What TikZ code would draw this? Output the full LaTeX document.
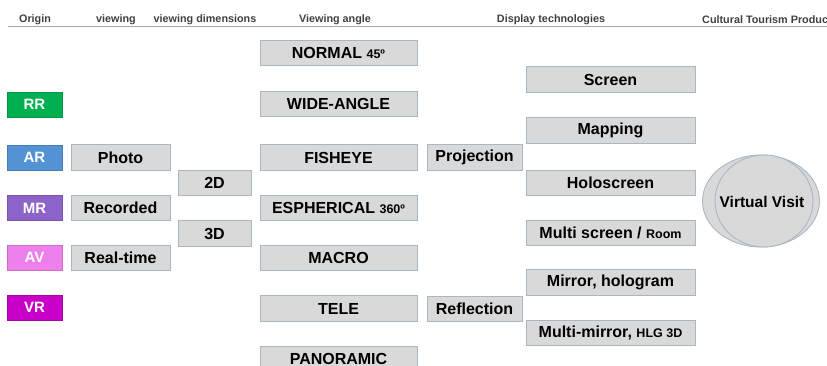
\documentclass[tikz,border=0pt]{standalone}
\usepackage{fontspec}
\setmainfont{Liberation Sans}
\begin{document}
\begin{tikzpicture}[x=1pt,y=-1pt,
  hdr/.style={font=\fontsize{10.8}{12}\selectfont\bfseries, text=black!75, inner sep=0pt},
  gbox/.style={draw=boxedge, fill=boxfill, line width=0.9pt, inner sep=0pt,
    minimum height=25.5pt, text=black, font=\fontsize{16}{16}\selectfont\bfseries},
  obox/.style={fill=#1, draw=#1!85!black, line width=0.5pt, inner sep=0pt,
    minimum width=55pt, minimum height=25pt, text=white,
    font=\fontsize{15}{16}\selectfont\bfseries}
]
\definecolor{boxfill}{HTML}{D9D9D9}
\definecolor{boxedge}{HTML}{A9B6C4}
\definecolor{cRR}{HTML}{00B050}
\definecolor{cAR}{HTML}{5393D3}
\definecolor{cMR}{HTML}{8E63C9}
\definecolor{cAV}{HTML}{EE80EE}
\definecolor{cVR}{HTML}{C800C8}
\definecolor{rule}{HTML}{A6A6A6}
\newcommand{\sm}[1]{{\fontsize{12.5}{12}\selectfont #1}}

\useasboundingbox (0,0) rectangle (827,365);
\clip (0,0) rectangle (827,365);

% column headings and rule
\coordinate (ruleL) at (8,26.5);
\coordinate (ruleR) at (827,26.5);
\draw[rule, line width=1pt] (ruleL) -- (ruleR);
\node[hdr] (hOrigin) at (35,20) {Origin};
\node[hdr] (hView) at (116,20) {viewing};
\node[hdr] (hDim) at (205,20) {viewing dimensions};
\node[hdr] (hAngle) at (335,20) {Viewing angle};
\node[hdr] (hDisp) at (551,20) {Display technologies};
\node[hdr, anchor=west] (hProd) at (702,20) {Cultural Tourism Product};

% origin
\node[obox=cRR] (rr) at (34.5,104.5) {RR};
\node[obox=cAR] (ar) at (34.5,157.5) {AR};
\node[obox=cMR] (mr) at (34.5,208) {MR};
\node[obox=cAV] (av) at (34.5,257.5) {AV};
\node[obox=cVR] (vr) at (34.5,307.5) {VR};

% viewing
\node[gbox, minimum width=99pt] (photo) at (120.5,157.5) {Photo};
\node[gbox, minimum width=99pt] (rec) at (120.5,208) {Recorded};
\node[gbox, minimum width=99pt] (real) at (120.5,258) {Real-time};

% viewing dimensions
\node[gbox, minimum width=73pt] (d2) at (214.5,183) {2D};
\node[gbox, minimum width=73pt] (d3) at (214.5,233.5) {3D};

% viewing angle
\node[gbox, minimum width=157pt] (normal) at (338.5,53) {NORMAL \sm{45º}};
\node[gbox, minimum width=157pt] (wide) at (338.5,104) {WIDE-ANGLE};
\node[gbox, minimum width=157pt] (fish) at (338.5,157.5) {FISHEYE};
\node[gbox, minimum width=157pt] (esph) at (338.5,208) {ESPHERICAL \sm{360º}};
\node[gbox, minimum width=157pt] (macro) at (338.5,258) {MACRO};
\node[gbox, minimum width=157pt] (tele) at (338.5,308.5) {TELE};
\node[gbox, minimum width=157pt] (pano) at (338.5,359) {PANORAMIC};

% display technologies
\node[gbox, minimum width=95pt] (proj) at (474.5,157.5) {Projection};
\node[gbox, minimum width=95pt] (refl) at (474.5,309) {Reflection};
\node[gbox, minimum width=169pt] (screen) at (610.5,79.5) {Screen};
\node[gbox, minimum width=169pt] (mapping) at (610.5,130.5) {Mapping};
\node[gbox, minimum width=169pt] (holo) at (610.5,183) {Holoscreen};
\node[gbox, minimum width=169pt] (multi) at (610.5,233) {Multi screen / \sm{Room}};
\node[gbox, minimum width=169pt] (mirror) at (610.5,282.5) {Mirror, hologram};
\node[gbox, minimum width=169pt] (mmirror) at (610.5,333) {Multi-mirror, \sm{HLG 3D}};

% cultural tourism product
\draw[boxedge, fill=boxfill, line width=0.9pt] (761,201) ellipse [x radius=58.5, y radius=46];
\draw[boxedge, fill=boxfill, line width=0.9pt] (764,201) ellipse [x radius=49, y radius=46];
\node[font=\fontsize{15.5}{16}\selectfont\bfseries, inner sep=0pt] (visit) at (762,202) {Virtual Visit};
\end{tikzpicture}
\end{document}
